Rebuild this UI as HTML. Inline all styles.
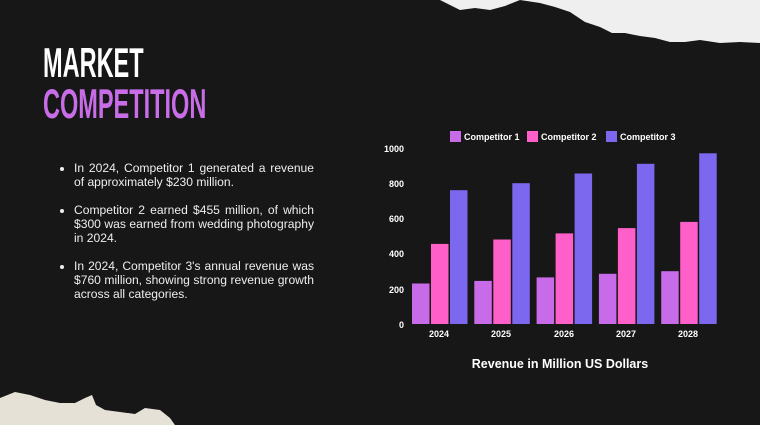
<!DOCTYPE html>
<html><head><meta charset="utf-8"><style>
html,body{margin:0;padding:0}
body{width:760px;height:425px;background:#171717;overflow:hidden;position:relative;font-family:"Liberation Sans",sans-serif}
.t{position:absolute;left:43px;font-weight:bold;font-size:42px;line-height:42px;transform:scaleX(0.56);transform-origin:left top;letter-spacing:0}
ul{position:absolute;left:60px;top:161px;width:240px;margin:0;padding:0 0 0 14px;color:#eee;font-size:12.1px;line-height:14px;text-align:justify}
li{margin-bottom:14px}
</style></head><body>
<svg width="760" height="425" style="position:absolute;left:0;top:0">
<polygon points="440,0 448,4 460,10 475,8 490,10 505,6 520,0 540,3 555,7 570,12 585,22 600,27 612,33 625,33 640,36 655,38 670,42 685,42 700,40 720,43 740,42 760,43 760,0" fill="#efefef"/>
<polygon points="0,398 15,392 30,395 45,400 60,403 75,403 85,398 92,395 96,405 105,410 120,412 135,414 145,408 160,410 170,418 175,425 0,425" fill="#e6e1d6"/>
<g font-size="9" fill="#fff" font-weight="bold" text-anchor="end">
<text x="404" y="152">1000</text><text x="404" y="187">800</text><text x="404" y="222">600</text><text x="404" y="257">400</text><text x="404" y="293">200</text><text x="404" y="328">0</text>
</g>
<g font-size="9" fill="#fff" font-weight="bold" text-anchor="middle">
<text x="439" y="337">2024</text><text x="501" y="337">2025</text><text x="564" y="337">2026</text><text x="626" y="337">2027</text><text x="688" y="337">2028</text>
</g>
<g font-size="9" fill="#fff" font-weight="bold">
<rect x="450" y="131" width="11" height="11" fill="#c76be8"/><text x="464" y="140">Competitor 1</text>
<rect x="527" y="131" width="11" height="11" fill="#ff5fc8"/><text x="541" y="140">Competitor 2</text>
<rect x="606" y="131" width="11" height="11" fill="#7b68ee"/><text x="620" y="140">Competitor 3</text>
</g>
<text x="560" y="368" font-size="12.5" fill="#fff" font-weight="bold" text-anchor="middle">Revenue in Million US Dollars</text>
<g>
<rect x="412" y="283.5" width="17.5" height="40.5" fill="#c76be8"/><rect x="431" y="243.9" width="17.5" height="80.1" fill="#ff5fc8"/><rect x="450" y="190.2" width="17.5" height="133.8" fill="#7b68ee"/>
<rect x="474.3" y="280.9" width="17.5" height="43.1" fill="#c76be8"/><rect x="493.3" y="239.5" width="17.5" height="84.5" fill="#ff5fc8"/><rect x="512.3" y="183.2" width="17.5" height="140.8" fill="#7b68ee"/>
<rect x="536.6" y="277.4" width="17.5" height="46.6" fill="#c76be8"/><rect x="555.6" y="233.4" width="17.5" height="90.6" fill="#ff5fc8"/><rect x="574.6" y="173.5" width="17.5" height="150.5" fill="#7b68ee"/>
<rect x="598.9" y="273.8" width="17.5" height="50.2" fill="#c76be8"/><rect x="617.9" y="228.1" width="17.5" height="95.9" fill="#ff5fc8"/><rect x="636.9" y="163.8" width="17.5" height="160.2" fill="#7b68ee"/>
<rect x="661.2" y="271.2" width="17.5" height="52.8" fill="#c76be8"/><rect x="680.2" y="221.9" width="17.5" height="102.1" fill="#ff5fc8"/><rect x="699.2" y="153.3" width="17.5" height="170.7" fill="#7b68ee"/>
</g>
</svg>
<div class="t" style="top:42px;color:#fff">MARKET</div>
<div class="t" style="top:83px;color:#c86ce8">COMPETITION</div>
<ul>
<li>In 2024, Competitor 1 generated a revenue of approximately $230 million.</li>
<li>Competitor 2 earned $455 million, of which $300 was earned from wedding photography in 2024.</li>
<li>In 2024, Competitor 3's annual revenue was $760 million, showing strong revenue growth across all categories.</li>
</ul>
</body></html>
